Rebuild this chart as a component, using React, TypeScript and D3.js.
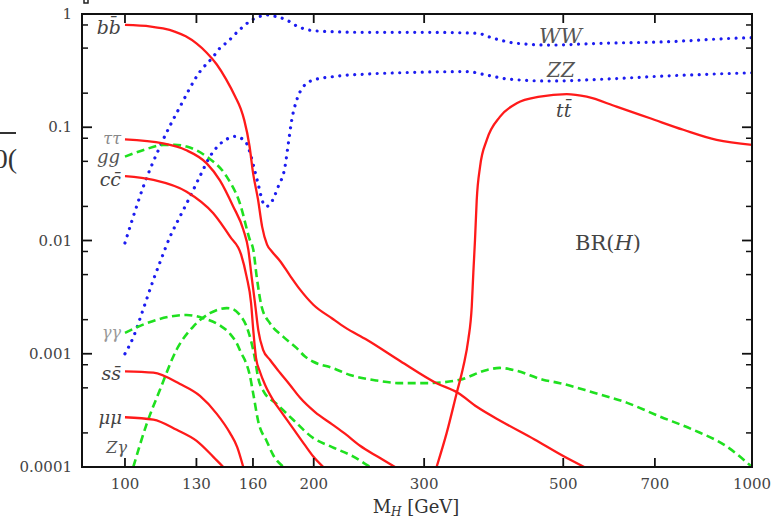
import React from 'react';
import * as d3 from 'd3';

type Pt = [number, number];

// ---- axis ticks ----
const xTicks: number[] = [100, 130, 160, 200, 300, 500, 700, 1000];
const xTickLabels: string[] = ['100', '130', '160', '200', '300', '500', '700', '1000'];
const yTicks: number[] = [1e-4, 1e-3, 1e-2, 0.1, 1];
const yTickLabels: string[] = ['0.0001', '0.001', '0.01', '0.1', '1'];
const yMinorMult: number[] = [2, 5, 8];

// ---- branching ratios [M_H (GeV), BR] ----
const bb: Pt[] = [
  [100, 0.80], [110, 0.775], [115, 0.745], [120, 0.70], [125, 0.635], [130, 0.55], [135, 0.455],
  [140, 0.36], [145, 0.265], [150, 0.185], [153, 0.145], [155, 0.115], [158, 0.068], [160, 0.040],
  [163, 0.023], [165.5, 0.0132], [168.5, 0.0092], [171.5, 0.0080], [176.7, 0.0066], [183.3, 0.0049],
  [190.1, 0.0037], [199.7, 0.00271], [214, 0.00205], [224.3, 0.00171], [243, 0.00133],
  [275, 0.00086], [314, 0.00055], [340, 0.00045], [364, 0.00034], [400, 0.00025], [450, 0.000175],
  [500, 0.000125], [540, 0.0001],
];
const tautau: Pt[] = [
  [100, 0.078], [115, 0.072], [125, 0.063], [135, 0.048], [141.7, 0.034], [148.8, 0.020],
  [154.4, 0.0125], [157.3, 0.0083], [159.2, 0.0048], [161.2, 0.0028], [163.2, 0.0016],
  [166, 0.00109], [170.4, 0.00088], [176.7, 0.00068], [183.3, 0.00053], [190.1, 0.00041],
  [201, 0.000305], [214, 0.000238], [224.3, 0.000197], [237.1, 0.000154], [253.2, 0.000123],
  [269.5, 0.0001],
];
const cc: Pt[] = [
  [100, 0.037], [111, 0.0343], [125.4, 0.027], [138.3, 0.0174], [147.1, 0.0108], [153.2, 0.0075],
  [156.3, 0.0048], [158.9, 0.0028], [160.2, 0.0016], [161.8, 0.00092], [164.2, 0.00069],
  [167.3, 0.00053], [172.3, 0.00039], [178.8, 0.00029], [185.6, 0.000217], [193.8, 0.000155],
  [199.7, 0.000124], [207.2, 0.0001],
];
const ss: Pt[] = [
  [100, 0.0007], [111, 0.00068], [122.4, 0.00054], [131.7, 0.000424], [140, 0.000296],
  [147.1, 0.000199], [151, 0.00015], [154.4, 0.0001],
];
const mumu: Pt[] = [
  [100, 0.000275], [111, 0.000262], [120.9, 0.000213], [130.1, 0.00017], [138.3, 0.000123],
  [143.5, 0.0001],
];
const tt: Pt[] = [
  [314, 0.0001], [325.9, 0.0002], [338.1, 0.00045], [346.4, 0.00077], [352.8, 0.00133],
  [357.3, 0.0026], [359.4, 0.0052], [361.6, 0.0101], [363.9, 0.0228], [368.4, 0.045],
  [377.6, 0.0773], [396.4, 0.124], [421.5, 0.163], [459, 0.186], [506.4, 0.196], [545, 0.186],
  [608, 0.152], [688, 0.12], [777, 0.095], [878, 0.0773], [1000, 0.0698],
];
const gg: Pt[] = [
  [100, 0.055], [108, 0.064], [115, 0.0698], [120, 0.07], [125.4, 0.0675], [135, 0.055],
  [145.3, 0.0366], [152.5, 0.0213], [158.2, 0.0101], [160.2, 0.0083], [162.2, 0.0048],
  [165.2, 0.0026], [170.4, 0.00185], [178.9, 0.00141], [187.9, 0.00112], [193.5, 0.00095],
  [199.7, 0.00085], [214, 0.00075], [228.5, 0.00065], [252, 0.00058], [275, 0.00055],
  [303, 0.00055], [342, 0.00059], [378, 0.00072], [396, 0.00075], [420, 0.00071], [464, 0.00059],
  [494, 0.00055], [558, 0.000455], [631, 0.00037], [713, 0.000279], [806, 0.000213],
  [911, 0.000152], [1000, 0.0001],
];
const gamgam: Pt[] = [
  [100, 0.00153], [108.3, 0.00186], [118, 0.00213], [125.4, 0.0022], [133.3, 0.00206],
  [141.7, 0.00178], [147.1, 0.0015], [150.7, 0.00124], [153.3, 0.00101], [155.3, 0.00088],
  [158.2, 0.00064], [160.2, 0.00044], [163.2, 0.00025], [168.3, 0.000169], [172.4, 0.000127],
  [179, 0.0001],
];
const Zgam: Pt[] = [
  [103.1, 0.0001], [108.3, 0.00024], [113.7, 0.00048], [120.9, 0.00109], [128.5, 0.00174],
  [136.6, 0.00228], [145.3, 0.00253], [148, 0.0025], [152.5, 0.0022], [156.3, 0.00174],
  [159.2, 0.00124], [161.2, 0.0009], [163, 0.00062], [166.2, 0.00047], [174.6, 0.00036],
  [185.6, 0.00026], [199.7, 0.00018], [214, 0.00015], [231, 0.000124], [246, 0.0001],
];
const WW: Pt[] = [
  [100, 0.0095], [103, 0.016], [107, 0.030], [113.7, 0.0675], [122.4, 0.152], [131.7, 0.31],
  [138.3, 0.42], [141.7, 0.50], [145.3, 0.56], [152.5, 0.73], [160.2, 0.90], [165, 0.96],
  [168.3, 0.98], [174.6, 0.947], [181.1, 0.885], [187.9, 0.784], [193, 0.74], [199.7, 0.712],
  [214.9, 0.698], [243, 0.689], [300, 0.689], [363.9, 0.676], [386.8, 0.61], [421.5, 0.551],
  [476.3, 0.532], [572.3, 0.551], [731.1, 0.569], [933.7, 0.61], [1000, 0.618],
];
const ZZ: Pt[] = [
  [100, 0.001], [103.1, 0.0014], [107, 0.0025], [111, 0.0045], [113.7, 0.0064], [118, 0.0108],
  [122.4, 0.0163], [127, 0.0244], [131.7, 0.037], [136.6, 0.055], [141.7, 0.071], [147.1, 0.081],
  [150, 0.083], [152.5, 0.081], [156.3, 0.072], [158.5, 0.058], [160.2, 0.0465], [163.2, 0.031],
  [166.2, 0.0213], [168.3, 0.020], [170.4, 0.021], [175.6, 0.030], [180, 0.045], [182.2, 0.072],
  [184.5, 0.116], [187.9, 0.174], [192.5, 0.228], [199.7, 0.261], [214.9, 0.28], [243, 0.295],
  [274.6, 0.303], [350.7, 0.31], [377.6, 0.289], [411, 0.265], [476, 0.256], [572, 0.265],
  [731, 0.284], [1000, 0.303],
];

const fermions: Pt[][] = [bb, tautau, cc, ss, mumu, tt];
const loops: Pt[][] = [gg, gamgam, Zgam];
const bosons: Pt[][] = [WW, ZZ];

const W = 781;
const H = 519;
const L = 82;
const R = 752;
const T = 14;
const B = 467;

const serif = "'DejaVu Serif', 'Liberation Serif', serif";

export default function App() {
  const x = d3.scaleLog().domain([85.4, 1000]).range([L, R]);
  const y = d3.scaleLog().domain([1e-4, 1]).range([B, T]);
  const line = d3
    .line<Pt>()
    .x((d) => x(d[0]))
    .y((d) => y(d[1]))
    .curve(d3.curveMonotoneX);

  const minor: number[] = [];
  for (let e = -4; e < 0; e++) {
    yMinorMult.forEach((m) => minor.push(m * Math.pow(10, e)));
  }

  const lab = (props: any, children: any) => (
    <text fontFamily={serif} fontStyle="italic" {...props}>
      {children}
    </text>
  );

  return (
    <svg
      width={W}
      height={H}
      style={{ position: 'absolute', left: 0, top: 0, background: '#fff' }}
    >
      <rect x={0} y={0} width={W} height={H} fill="#fff" />
      <defs>
        <clipPath id="plot">
          <rect x={L} y={T} width={R - L} height={B - T} />
        </clipPath>
      </defs>

      {/* cropped fragments at the edges */}
      <line x1={0} x2={16} y1={133} y2={133} stroke="#333" strokeWidth={2} />
      <text x={17} y={168} textAnchor="end" fontFamily="'Liberation Serif', serif" fontSize={28} fill="#333">
        00(
      </text>
      <path d="M84,0 L84,3 L88,3 L88,0" fill="none" stroke="#222" strokeWidth={1.5} />

      {/* curves */}
      <g clipPath="url(#plot)" fill="none">
        {bosons.map((d, i) => (
          <path
            key={'b' + i}
            d={line(d) || ''}
            stroke="#1c1cf0"
            strokeWidth={3.2}
            strokeLinecap="round"
            strokeDasharray="0.01 7.5"
          />
        ))}
        {loops.map((d, i) => (
          <path
            key={'l' + i}
            d={line(d) || ''}
            stroke="#1fe01f"
            strokeWidth={2.6}
            strokeDasharray="8 4.5"
          />
        ))}
        {fermions.map((d, i) => (
          <path key={'f' + i} d={line(d) || ''} stroke="#ff1a1a" strokeWidth={2.3} />
        ))}
      </g>

      {/* frame */}
      <rect x={L} y={T} width={R - L} height={B - T} fill="none" stroke="#111" strokeWidth={2} />

      {/* x ticks */}
      {xTicks.map((v, i) => (
        <g key={'xt' + i}>
          <line x1={x(v)} x2={x(v)} y1={B} y2={B - 9} stroke="#111" strokeWidth={1.8} />
          <line x1={x(v)} x2={x(v)} y1={T} y2={T + 9} stroke="#111" strokeWidth={1.8} />
          <text
            x={x(v)}
            y={489}
            textAnchor="middle"
            fontFamily={serif}
            fontSize={15}
            fill="#444"
          >
            {xTickLabels[i]}
          </text>
        </g>
      ))}

      {/* y ticks */}
      {yTicks.map((v, i) => (
        <g key={'yt' + i}>
          <line x1={L} x2={L + 10} y1={y(v)} y2={y(v)} stroke="#111" strokeWidth={1.8} />
          <line x1={R} x2={R - 10} y1={y(v)} y2={y(v)} stroke="#111" strokeWidth={1.8} />
          <text
            x={72}
            y={y(v) + 5}
            textAnchor="end"
            fontFamily={serif}
            fontSize={15}
            fill="#444"
          >
            {yTickLabels[i]}
          </text>
        </g>
      ))}
      {minor.map((v, i) => (
        <g key={'ym' + i}>
          <line x1={L} x2={L + 6} y1={y(v)} y2={y(v)} stroke="#111" strokeWidth={1.5} />
          <line x1={R} x2={R - 6} y1={y(v)} y2={y(v)} stroke="#111" strokeWidth={1.5} />
        </g>
      ))}

      {/* axis title */}
      <text x={416} y={513} textAnchor="middle" fontFamily={serif} fontSize={18} fill="#333">
        M
        <tspan fontSize={12} fontStyle="italic" dy={3}>
          H
        </tspan>
        <tspan dy={-3}> [GeV]</tspan>
      </text>

      {/* curve labels */}
      {lab({ x: 121, y: 34, textAnchor: 'end', fontSize: 19, fill: '#444' }, 'bb\u0304')}
      {lab({ x: 121, y: 144, textAnchor: 'end', fontSize: 16, fill: '#888' }, '\u03c4\u03c4')}
      {lab({ x: 120, y: 163, textAnchor: 'end', fontSize: 18, fill: '#555' }, 'gg')}
      {lab({ x: 121, y: 186, textAnchor: 'end', fontSize: 19, fill: '#444' }, 'cc\u0304')}
      {lab({ x: 121, y: 338, textAnchor: 'end', fontSize: 16, fill: '#999' }, '\u03b3\u03b3')}
      {lab({ x: 121, y: 380, textAnchor: 'end', fontSize: 19, fill: '#444' }, 'ss\u0304')}
      {lab({ x: 122, y: 424, textAnchor: 'end', fontSize: 18, fill: '#444' }, '\u03bc\u03bc')}
      {lab({ x: 127, y: 453, textAnchor: 'end', fontSize: 16, fill: '#555' }, 'Z\u03b3')}
      {lab({ x: 539, y: 43, fontSize: 21, fill: '#555' }, 'WW')}
      {lab({ x: 547, y: 77, fontSize: 20, fill: '#555' }, 'ZZ')}
      {lab({ x: 556, y: 117, fontSize: 19, fill: '#444' }, 'tt\u0304')}
      <text x={575} y={250} fontFamily={serif} fontSize={21} fill="#444">
        BR(
        <tspan fontStyle="italic">H</tspan>)
      </text>
    </svg>
  );
}
